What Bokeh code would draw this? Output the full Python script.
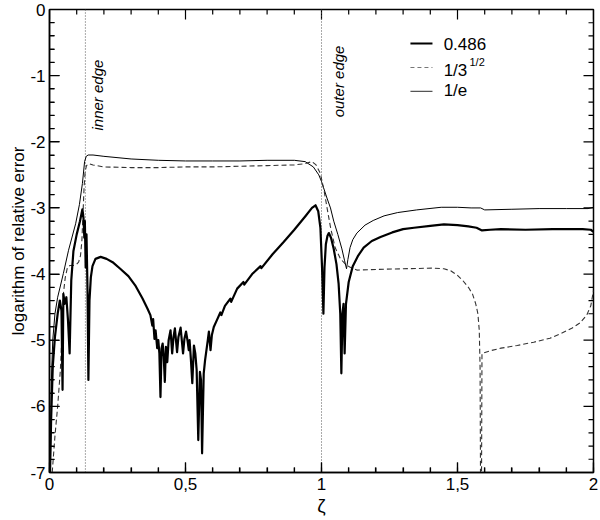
import math
import numpy as np
from bokeh.plotting import figure
from bokeh.models import Range1d, FixedTicker, Title
from bokeh.core.properties import value
from bokeh.embed import file_html
from bokeh.resources import INLINE

# ---------------- data ----------------
x_486 = [0.002, 0.006, 0.012, 0.02, 0.03, 0.038, 0.044, 0.048, 0.051, 0.056, 0.062, 0.068, 0.074, 0.08,
         0.088, 0.1, 0.112, 0.121, 0.125, 0.128, 0.13, 0.133, 0.136, 0.14, 0.143, 0.147, 0.152, 0.158,
         0.169, 0.188, 0.21, 0.232, 0.26, 0.29, 0.315, 0.342, 0.36, 0.371, 0.378, 0.381, 0.386, 0.39,
         0.396, 0.4, 0.404, 0.408, 0.412, 0.416, 0.42, 0.424, 0.428, 0.433, 0.438, 0.445, 0.451, 0.456,
         0.461, 0.469, 0.474, 0.482, 0.491, 0.496, 0.502, 0.508, 0.512, 0.515, 0.52, 0.525, 0.531, 0.536,
         0.541, 0.547, 0.553, 0.557, 0.561, 0.567, 0.572, 0.577, 0.582, 0.586, 0.592, 0.597, 0.604, 0.615,
         0.628, 0.632, 0.645, 0.665, 0.668, 0.69, 0.713, 0.716, 0.745, 0.776, 0.779, 0.82, 0.86, 0.9,
         0.94, 0.965, 0.978, 0.988, 0.996, 1.002, 1.007, 1.011, 1.016, 1.022, 1.027, 1.035, 1.045, 1.055,
         1.063, 1.069, 1.073, 1.077, 1.081, 1.085, 1.09, 1.1, 1.115, 1.135, 1.155, 1.185, 1.217, 1.26,
         1.3, 1.34, 1.4, 1.45, 1.5, 1.54, 1.57, 1.59, 1.62, 1.66, 1.75, 1.85, 1.96, 1.99, 2.0]
y_486 = [-7.0, -6.2, -5.4, -4.95, -4.6, -4.4, -4.55, -5.75, -4.3, -4.45, -4.35, -4.7, -5.2, -4.1,
         -3.65, -3.4, -3.2, -3.02, -3.15, -3.45, -3.2, -3.9, -3.4, -4.3, -5.6, -4.4, -4.05, -3.88,
         -3.77, -3.74, -3.77, -3.82, -3.92, -4.03, -4.17, -4.37, -4.52, -4.62, -4.78, -4.68, -4.98, -4.85,
         -5.12, -5.0, -5.2, -5.86, -5.12, -5.05, -5.25, -5.63, -5.1, -5.33, -5.0, -4.85, -5.2, -4.95,
         -4.82, -5.18, -4.95, -4.81, -5.2, -4.98, -4.87, -5.02, -5.15, -5.0, -5.3, -5.65, -5.08, -5.2,
         -5.45, -6.51, -5.48, -5.6, -6.71, -5.5, -5.3, -5.15, -5.0, -4.87, -5.15, -4.92, -4.8, -4.7,
         -4.58, -4.62, -4.48, -4.37, -4.42, -4.22, -4.12, -4.16, -4.0, -3.88, -3.91, -3.7, -3.52, -3.33,
         -3.13, -3.0, -2.96, -3.05, -3.3, -3.9, -4.6, -3.9, -3.55, -3.42, -3.38, -3.45, -3.62, -3.85,
         -4.15, -4.6, -5.5, -4.6, -4.45, -5.2, -4.45, -4.12, -3.88, -3.72, -3.6, -3.5, -3.44, -3.37,
         -3.32, -3.3, -3.27, -3.25, -3.26, -3.28, -3.3, -3.34, -3.33, -3.32, -3.33, -3.32, -3.32, -3.33, -3.36]

x_sqrt3 = [0.01, 0.02, 0.03, 0.04, 0.046, 0.051, 0.058, 0.066, 0.075, 0.088, 0.1, 0.107, 0.114, 0.119,
           0.123, 0.127, 0.131, 0.136, 0.145, 0.16, 0.2, 0.3, 0.4, 0.5, 0.6, 0.7, 0.8, 0.9, 0.94, 0.965,
           0.98, 0.996, 1.01, 1.02, 1.033, 1.05, 1.07, 1.09, 1.107, 1.13, 1.2, 1.3, 1.41, 1.45, 1.475,
           1.5, 1.52, 1.54, 1.555, 1.567, 1.575, 1.58, 1.583, 1.585, 1.588, 1.59, 1.62, 1.66, 1.72, 1.78,
           1.84, 1.88, 1.92, 1.95, 1.975, 1.99, 2.0]
y_sqrt3 = [-7.0, -6.45, -6.0, -5.45, -4.9, -4.3, -4.05, -3.9, -3.87, -3.87, -3.85, -3.82, -3.72, -3.5,
           -3.1, -2.7, -2.45, -2.36, -2.33, -2.35, -2.38, -2.39, -2.39, -2.38, -2.38, -2.37, -2.36, -2.35, -2.33, -2.3,
           -2.35, -2.48, -2.75, -2.99, -3.29, -3.6, -3.77, -3.86, -3.9, -3.94, -3.93, -3.92, -3.91, -3.92, -3.95,
           -4.02, -4.1, -4.2, -4.3, -4.45, -4.6, -4.85, -5.4, -7.5, -7.5, -5.2, -5.16, -5.12, -5.08, -5.03,
           -4.97, -4.9, -4.82, -4.74, -4.62, -4.48, -4.25]

x_inv_e = [0.003, 0.007, 0.012, 0.02, 0.03, 0.04, 0.051, 0.07, 0.096, 0.11, 0.121, 0.129, 0.135, 0.142,
           0.16, 0.2, 0.3, 0.4, 0.5, 0.6, 0.7, 0.8, 0.9, 0.94, 0.97, 0.99, 1.0, 1.02, 1.033, 1.045, 1.06,
           1.075, 1.085, 1.092, 1.097, 1.105, 1.115, 1.13, 1.16, 1.19, 1.23, 1.28, 1.35, 1.44, 1.5, 1.55,
           1.585, 1.6, 1.7, 1.8, 1.9, 1.98, 2.0]
y_inv_e = [-7.0, -5.6, -5.0, -4.6, -4.35, -4.18, -3.99, -3.64, -3.24, -2.95, -2.63, -2.3, -2.22, -2.2,
           -2.2, -2.22, -2.26, -2.28, -2.29, -2.29, -2.29, -2.28, -2.28, -2.3, -2.38, -2.5, -2.6, -2.85, -3.0, -3.2, -3.4,
           -3.62, -3.8, -3.92, -3.78, -3.6, -3.48, -3.38, -3.26, -3.19, -3.12, -3.07, -3.03, -2.99, -2.99, -3.0,
           -3.0, -3.03, -3.02, -3.01, -3.01, -3.01, -2.99]

edges = [0.132, 1.0]
edge_labels = ["inner edge", "outer edge"]
x_major = [0, 0.5, 1, 1.5, 2]
x_labels = ["0", "0,5", "1", "1,5", "2"]
y_major = [-7, -6, -5, -4, -3, -2, -1, 0]
y_labels = ["-7", "-6", "-5", "-4", "-3", "-2", "-1", "0"]
x_minor = [round(i / 10, 3) for i in range(0, 21)]
y_minor = [round(-7 + i * 0.2, 3) for i in range(0, 36)]

FONT = "Liberation Sans"
X0, X1, Y0, Y1 = 0.0, 2.0, -7.0, 0.0
W, H = 600, 520
BL, BR, BT, BB = 49, 7, 9, 48

p = figure(width=W, height=H, output_backend="svg", toolbar_location=None,
           x_range=Range1d(X0, X1), y_range=Range1d(Y0, Y1),
           min_border_left=BL, min_border_right=BR, min_border_top=BT, min_border_bottom=BB)
p.xgrid.visible = False
p.ygrid.visible = False
p.outline_line_color = "black"
p.outline_line_width = 1.5

def style(ax):
    ax.axis_line_color = "black"
    ax.axis_line_width = 1.5
    ax.major_tick_in = 10
    ax.major_tick_out = 0
    ax.minor_tick_in = 5
    ax.minor_tick_out = 0
    ax.major_tick_line_color = "black"
    ax.minor_tick_line_color = "black"
    ax.major_tick_line_width = 1.2
    ax.minor_tick_line_width = 1.2
    ax.major_label_text_font = FONT
    ax.major_label_text_font_size = "17px"
    ax.major_label_text_color = "black"

xa = p.xaxis[0]
xa.ticker = FixedTicker(ticks=x_major, minor_ticks=x_minor)
xa.major_label_overrides = {v: s for v, s in zip(x_major, x_labels)}
style(xa)
xa.major_label_standoff = 5

ya = p.yaxis[0]
ya.ticker = FixedTicker(ticks=y_major, minor_ticks=y_minor)
ya.major_label_overrides = {v: s for v, s in zip(y_major, y_labels)}
style(ya)
ya.major_label_standoff = 4

# axis titles as side titles
p.add_layout(Title(text="logarithm of relative error", align="center", text_font=FONT,
                   text_font_size="17px", text_font_style="normal", text_color="black",
                   standoff=0, offset=0), "left")
p.add_layout(Title(text="ζ", align="center", text_font=FONT, text_font_size="19px",
                   text_font_style="normal", text_color="black", standoff=0, offset=0), "below")

# ---- inward ticks on all four sides (pixel lengths converted to data units) ----
fw = W - BL - BR
fh = H - BT - BB
dx_px = (X1 - X0) / fw
dy_px = (Y1 - Y0) / fh
xl = [10.0 if any(abs(v - m) < 1e-9 for m in x_major) else 5.0 for v in x_minor]
yl = [10.0 if any(abs(v - m) < 1e-9 for m in y_major) else 5.0 for v in y_minor]

lx, ly = [], []
for v, l in zip(x_minor, xl):
    lx += [v, v, np.nan, v, v, np.nan]
    ly += [Y0, Y0 + l * dy_px, np.nan, Y1, Y1 - l * dy_px, np.nan]
for v, l in zip(y_minor, yl):
    lx += [X0, X0 + l * dx_px, np.nan, X1, X1 - l * dx_px, np.nan]
    ly += [v, v, np.nan, v, v, np.nan]
p.line(np.array(lx, dtype=float), np.array(ly, dtype=float), line_color="black", line_width=1.2)

# edge markers (dotted verticals)
p.segment(x0=edges, y0=[Y0] * len(edges), x1=edges, y1=[Y1] * len(edges),
          line_color="#555555", line_width=1, line_dash="1 2")

# curves
p.line(x_inv_e, y_inv_e, line_color="black", line_width=1)
p.line(x_sqrt3, y_sqrt3, line_color="#333333", line_width=1.1, line_dash="5 3")
p.line(x_486, y_486, line_color="black", line_width=2.2, line_join="round")

# legend (hand drawn)
lx0, lx1, ltx = 1.327, 1.408, 1.449
rows = [-0.514, -0.876, -1.239]
p.line([lx0, lx1], [rows[0], rows[0]], line_color="black", line_width=2.2)
p.line([lx0, lx1], [rows[1], rows[1]], line_color="#777777", line_width=1.1, line_dash="4 3")
p.line([lx0, lx1], [rows[2], rows[2]], line_color="#555555", line_width=1.2)

# texts
p.text(x=[edges[0] + 0.046, edges[1] + 0.061], y=[-1.83, -1.63], text=edge_labels,
       angle=math.pi / 2, text_font=value(FONT), text_font_style="italic", text_font_size="15px",
       text_align="left", text_baseline="middle", text_color="black")
p.text(x=[ltx, ltx, ltx], y=[rows[0] - 0.015, rows[1] - 0.045, rows[2] + 0.015],
       text=["0.486", "1/3", "1/e"], text_font=value(FONT), text_font_size="17px",
       text_align="left", text_baseline="middle", text_color="black")
p.text(x=[1.544], y=[-0.80], text=["1/2"], text_font=value(FONT), text_font_size="11px",
       text_align="left", text_baseline="middle", text_color="black")

open("out.html", "w").write(file_html(p, INLINE))
